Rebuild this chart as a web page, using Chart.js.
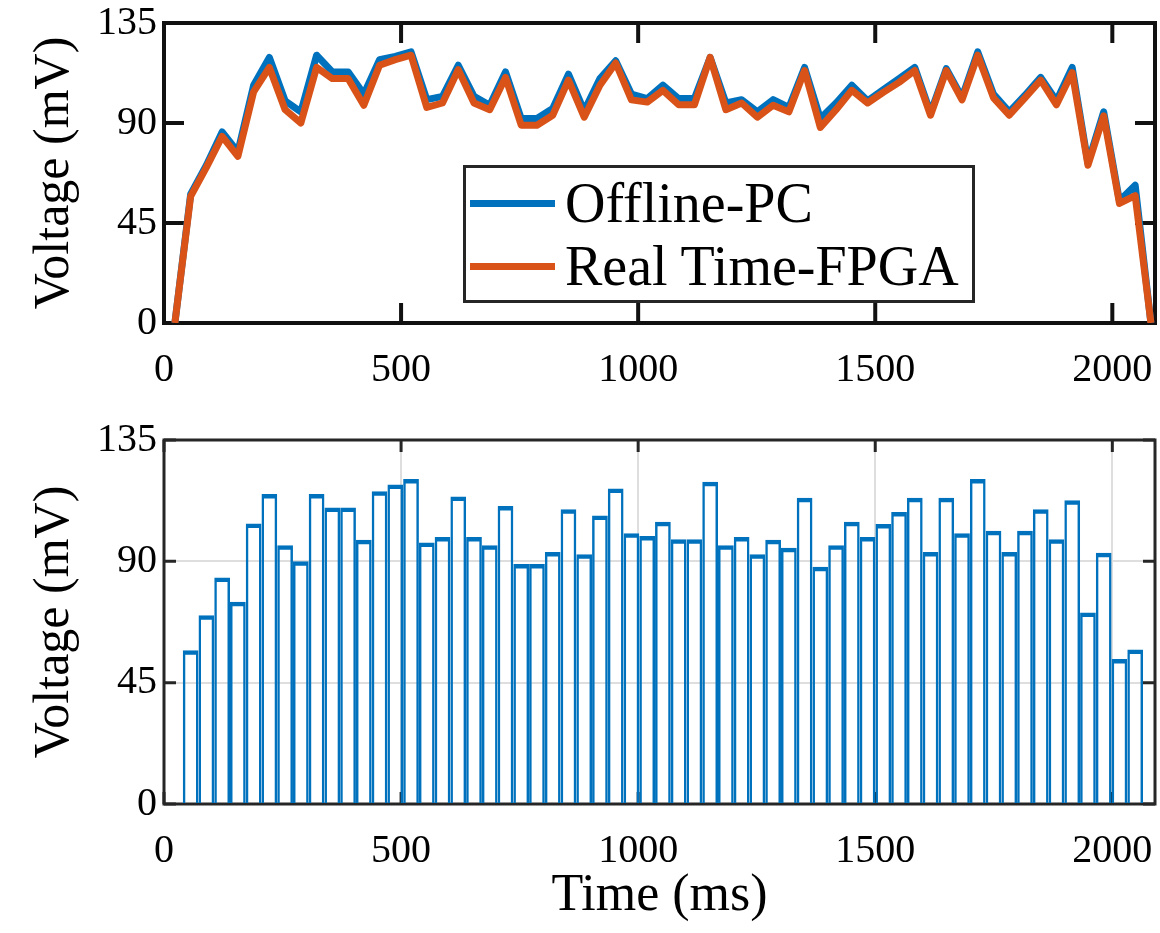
<!DOCTYPE html>
<html lang="en">
<head>
  <meta charset="UTF-8" />
  <title>Voltage – Offline-PC vs Real Time-FPGA</title>
  <script src="https://cdn.jsdelivr.net/npm/chart.js"></script>
  <style>
    html, body {
      margin: 0;
      background: #ffffff;
    }
    #page {
      position: relative;
      width: 1160px;
      height: 933px;
      font-family: "Liberation Serif", "Times New Roman", serif;
      color: #000;
    }
    #topBox {
      position: absolute;
      left: 0; top: 0;
      width: 1160px; height: 400px;
    }
    #bottomBox {
      position: absolute;
      left: 0; top: 400px;
      width: 1160px; height: 533px;
    }
    /* legend sits inside the top plot, like the MATLAB one */
    #legend {
      position: absolute;
      left: 463px; top: 165px;
      width: 512px; height: 138px;
      box-sizing: border-box;
      border: 3px solid #262626;
      background: #fff;
      padding: 4px 0 0 4px;
    }
    .legend-row {
      display: flex;
      align-items: center;
      height: 63px;
    }
    .legend-line {
      width: 85px;
      height: 7px;
      margin-right: 10px;
    }
    .legend-text {
      font-size: 56px;
      line-height: 63px;
      white-space: nowrap;
    }
  </style>
</head>
<body>
  <div id="page">
    <div id="topBox"><canvas id="topChart"></canvas></div>
    <div id="bottomBox"><canvas id="bottomChart"></canvas></div>
    <div id="legend"></div>
  </div>

  <script>
    // Sample times (ms)
    const times = [23, 56.2, 89.4, 122.6, 155.8, 189, 222.2, 255.4, 288.6, 321.8,
      355, 388.2, 421.4, 454.6, 487.8, 521, 554.2, 587.4, 620.6, 653.8,
      687, 720.2, 753.4, 786.6, 819.8, 853, 886.2, 919.4, 952.6, 985.8,
      1019, 1052.2, 1085.4, 1118.6, 1151.8, 1185, 1218.2, 1251.4, 1284.6, 1317.8,
      1351, 1384.2, 1417.4, 1450.6, 1483.8, 1517, 1550.2, 1583.4, 1616.6, 1649.8,
      1683, 1716.2, 1749.4, 1782.6, 1815.8, 1849, 1882.2, 1915.4, 1948.6, 1981.8,
      2015, 2048.2, 2081.4];

    // Voltage (mV) – offline reference computed on the PC
    const offlinePC = [0, 58, 71, 86, 77, 107, 119.5, 100, 95, 120.5,
      113, 113, 103, 118.5, 120, 122, 100.5, 102, 116, 102,
      98, 113, 92, 92, 96.5, 112, 95.5, 110, 118, 103,
      101, 107, 101, 101, 119.5, 99, 100.5, 95, 100.5, 97,
      115, 92, 99, 107, 100, 105, 110, 115, 94.5, 114.5,
      101.5, 122, 103, 95, 102.5, 110.5, 100, 115, 72, 95,
      55, 62, 0];

    // Voltage (mV) – real time output of the FPGA
    const realTimeFPGA = [0, 57, 70, 84, 75, 104, 115, 96, 90, 115,
      110, 110, 98, 116, 118.5, 120.5, 97, 99, 114, 99,
      96, 110.5, 89, 89, 93.5, 109.3, 92.6, 107, 117, 100.4,
      99.4, 104.7, 98.2, 98.2, 119.5, 96, 99, 92.6, 98, 95,
      113.6, 88, 96, 104.7, 99, 103.8, 108.3, 113.6, 93.5, 113.6,
      100.4, 120.5, 101.3, 93.5, 101.3, 109.3, 98.2, 112.7, 71, 93.2,
      53.8, 57.3, 0];

    // Axis ticks
    const xTicks = [0, 500, 1000, 1500, 2000];
    const yTicks = [0, 45, 90, 135];

    const BLUE = '#0072BD';
    const ORANGE = '#D95319';
    const SERIF = "'Liberation Serif', 'Times New Roman', serif";

    Chart.defaults.font.family = SERIF;
    Chart.defaults.color = '#000';

    // box round the plot + inward tick marks (MATLAB style)
    const framePlugin = {
      id: 'frame',
      beforeDatasetsDraw(chart, args, opts) {
        const { ctx, chartArea: a, scales: { x, y } } = chart;
        ctx.save();
        ctx.strokeStyle = opts.color;
        ctx.lineWidth = opts.width;
        ctx.beginPath();
        x.ticks.forEach(t => {
          const px = x.getPixelForValue(t.value);
          ctx.moveTo(px, a.bottom); ctx.lineTo(px, a.bottom - opts.tick);
          ctx.moveTo(px, a.top); ctx.lineTo(px, a.top + opts.tick);
        });
        y.ticks.forEach(t => {
          const py = y.getPixelForValue(t.value);
          ctx.moveTo(a.left, py); ctx.lineTo(a.left + opts.tick, py);
          ctx.moveTo(a.right, py); ctx.lineTo(a.right - opts.tick, py);
        });
        ctx.stroke();
        ctx.strokeRect(a.left, a.top, a.right - a.left, a.bottom - a.top);
        ctx.restore();
      }
    };

    const plainLabel = v => String(v);

    function xScale(height, withGrid, title) {
      return {
        type: 'linear',
        min: 0,
        max: 2090,
        offset: false,
        afterBuildTicks: s => { s.ticks = xTicks.map(v => ({ value: v })); },
        afterFit: s => { s.height = height; s.paddingLeft = 0; s.paddingRight = 0; },
        grid: { display: withGrid, drawTicks: false, offset: false, color: '#dedede', lineWidth: 2 },
        border: { display: false },
        ticks: { font: { size: 40, lineHeight: 1 }, padding: 27, maxRotation: 0, callback: plainLabel },
        title: title ? { display: true, text: title, font: { size: 52 }, padding: { top: 0, bottom: 5 } } : { display: false }
      };
    }

    function yScale(withGrid) {
      return {
        min: 0,
        max: 135,
        afterBuildTicks: s => { s.ticks = yTicks.map(v => ({ value: v })); },
        afterFit: s => { s.width = 164; s.paddingTop = 0; s.paddingBottom = 0; },
        grid: { display: withGrid, drawTicks: false, color: '#dedede', lineWidth: 2 },
        border: { display: false },
        ticks: { font: { size: 40, lineHeight: 1 }, padding: 7, callback: plainLabel },
        title: { display: true, text: 'Voltage (mV)', font: { size: 50 }, padding: { top: 25, bottom: 0 } }
      };
    }

    // Top: line comparison
    const topChart = new Chart(document.getElementById('topChart'), {
      type: 'line',
      data: {
        labels: times,
        datasets: [
          {
            label: 'Offline-PC',
            data: offlinePC,
            borderColor: BLUE,
            backgroundColor: BLUE,
            borderWidth: 7,
            pointRadius: 0,
            tension: 0,
            borderJoinStyle: 'round',
            order: 2
          },
          {
            label: 'Real Time-FPGA',
            data: realTimeFPGA,
            borderColor: ORANGE,
            backgroundColor: ORANGE,
            borderWidth: 7,
            pointRadius: 0,
            tension: 0,
            borderJoinStyle: 'round',
            order: 1
          }
        ]
      },
      options: {
        responsive: true,
        maintainAspectRatio: false,
        animation: false,
        layout: { padding: { top: 23, right: 5, left: 0, bottom: 0 } },
        scales: { x: xScale(77, false, null), y: yScale(false) },
        plugins: {
          legend: { display: false },
          tooltip: { enabled: false },
          frame: { color: '#111', width: 4, tick: 20 }
        }
      },
      plugins: [framePlugin]
    });

    // Bottom: FPGA output as hollow bars
    const bottomChart = new Chart(document.getElementById('bottomChart'), {
      type: 'bar',
      data: {
        labels: times,
        datasets: [
          {
            label: 'Real Time-FPGA',
            data: realTimeFPGA,
            borderColor: BLUE,
            backgroundColor: 'rgba(0,0,0,0)',
            borderWidth: { top: 4.5, left: 2.5, right: 2.5, bottom: 0 },
            inflateAmount: 0,
            barPercentage: 1,
            categoryPercentage: 1
          }
        ]
      },
      options: {
        responsive: true,
        maintainAspectRatio: false,
        animation: false,
        layout: { padding: { top: 40, right: 5, left: 0, bottom: 0 } },
        scales: { x: xScale(129, true, 'Time (ms)'), y: yScale(true) },
        plugins: {
          legend: { display: false },
          tooltip: { enabled: false },
          frame: { color: '#262626', width: 3, tick: 12 }
        }
      },
      plugins: [framePlugin]
    });

    // HTML legend for the top chart
    const legendEl = document.getElementById('legend');
    topChart.data.datasets.forEach(ds => {
      const row = document.createElement('div');
      row.className = 'legend-row';
      const line = document.createElement('span');
      line.className = 'legend-line';
      line.style.background = ds.borderColor;
      const txt = document.createElement('span');
      txt.className = 'legend-text';
      txt.textContent = ds.label;
      row.appendChild(line);
      row.appendChild(txt);
      legendEl.appendChild(row);
    });
  </script>
</body>
</html>
